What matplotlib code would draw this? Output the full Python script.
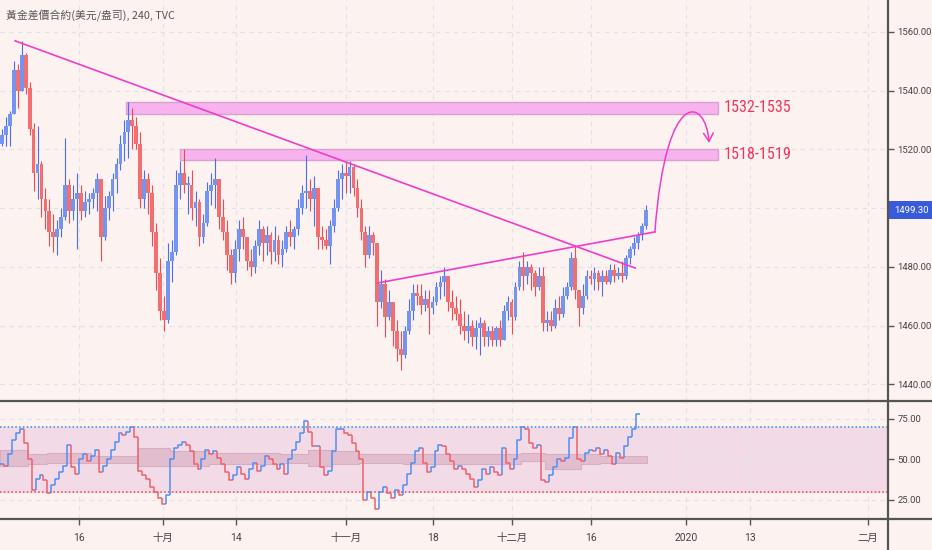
import numpy as np
import matplotlib
matplotlib.use('Agg')
from matplotlib import pyplot as plt
from matplotlib.collections import LineCollection
from matplotlib.patches import Rectangle, FancyArrowPatch
from matplotlib.path import Path
from matplotlib.lines import Line2D

plt.rcParams['font.family'] = ['Roboto', 'Noto Sans CJK TC', 'DejaVu Sans']

title = '黃金差價合約(美元/盎司), 240, TVC'

# gold bars, two bars per trading day (open = previous close)
first_open = 1522
highs = [1527, 1531, 1533, 1550, 1549, 1557, 1553, 1543, 1529, 1528, 1516, 1507, 1503, 1498, 1496, 1500, 1524, 1510, 1508, 1512,
         1508, 1506, 1505, 1507, 1512, 1510, 1504, 1506, 1512, 1517, 1525, 1530, 1536, 1534, 1531, 1526, 1513, 1512, 1508, 1495,
         1483, 1470, 1488, 1489, 1513, 1516, 1520, 1511, 1513, 1506, 1503, 1498, 1509, 1512, 1517, 1510, 1503, 1496, 1486, 1489,
         1496, 1497, 1490, 1486, 1489, 1496, 1494, 1494, 1492, 1494, 1491, 1489, 1494, 1496, 1494, 1503, 1508, 1518, 1510, 1511,
         1507, 1494, 1493, 1496, 1503, 1513, 1515, 1516, 1516, 1515, 1510, 1503, 1494, 1494, 1492, 1488, 1479, 1476, 1472, 1468,
         1462, 1458, 1460, 1469, 1474, 1474, 1474, 1472, 1472, 1470, 1475, 1477, 1480, 1477, 1472, 1470, 1469, 1465, 1464, 1462,
         1462, 1463, 1462, 1460, 1460, 1460, 1462, 1467, 1470, 1469, 1475, 1482, 1485, 1482, 1481, 1479, 1480, 1480, 1465, 1465,
         1469, 1470, 1473, 1475, 1485, 1487, 1472, 1474, 1479, 1479, 1480, 1479, 1479, 1479, 1481, 1481, 1480, 1482, 1484, 1487,
         1490, 1492, 1495, 1501]
lows = [1521, 1521, 1521, 1532, 1534, 1540, 1539, 1525, 1506, 1503, 1497, 1493, 1487, 1485, 1484, 1490, 1496, 1495, 1496, 1486,
        1496, 1497, 1498, 1500, 1499, 1482, 1489, 1496, 1499, 1505, 1513, 1516, 1517, 1520, 1520, 1500, 1500, 1498, 1487, 1472,
        1462, 1458, 1461, 1475, 1484, 1503, 1505, 1498, 1496, 1494, 1487, 1488, 1494, 1501, 1500, 1493, 1489, 1479, 1474, 1475,
        1482, 1486, 1479, 1477, 1478, 1484, 1482, 1484, 1481, 1482, 1481, 1480, 1485, 1487, 1486, 1491, 1498, 1500, 1499, 1494,
        1486, 1486, 1486, 1481, 1492, 1499, 1503, 1505, 1505, 1504, 1497, 1489, 1480, 1483, 1484, 1460, 1466, 1456, 1462, 1453,
        1448, 1445, 1449, 1457, 1462, 1467, 1464, 1465, 1457, 1464, 1467, 1469, 1470, 1465, 1462, 1462, 1457, 1455, 1454, 1453,
        1452, 1450, 1453, 1453, 1453, 1453, 1453, 1455, 1462, 1457, 1462, 1472, 1472, 1474, 1472, 1470, 1472, 1458, 1458, 1458,
        1459, 1462, 1463, 1469, 1472, 1469, 1460, 1464, 1469, 1474, 1472, 1472, 1470, 1474, 1474, 1475, 1476, 1475, 1476, 1481,
        1484, 1486, 1489, 1493]
closes = [1525, 1528, 1532, 1547, 1540, 1552, 1541, 1527, 1512, 1515, 1503, 1499, 1492, 1490, 1493, 1497, 1508, 1499, 1503, 1505,
          1499, 1502, 1503, 1505, 1510, 1490, 1500, 1504, 1510, 1515, 1522, 1526, 1530, 1528, 1522, 1503, 1510, 1505, 1492, 1478,
          1465, 1462, 1482, 1485, 1508, 1512, 1508, 1508, 1500, 1502, 1490, 1495, 1506, 1508, 1510, 1497, 1492, 1484, 1478, 1486,
          1493, 1490, 1482, 1480, 1487, 1493, 1488, 1491, 1485, 1489, 1484, 1486, 1492, 1490, 1493, 1500, 1505, 1506, 1503, 1507,
          1490, 1489, 1487, 1494, 1500, 1510, 1512, 1511, 1514, 1507, 1500, 1492, 1484, 1491, 1488, 1468, 1474, 1463, 1468, 1458,
          1452, 1450, 1458, 1465, 1471, 1470, 1467, 1469, 1466, 1468, 1473, 1475, 1477, 1468, 1466, 1464, 1460, 1458, 1460, 1456,
          1459, 1461, 1456, 1458, 1455, 1459, 1455, 1465, 1468, 1463, 1473, 1480, 1477, 1480, 1478, 1473, 1477, 1461, 1462, 1460,
          1466, 1464, 1470, 1473, 1483, 1472, 1466, 1470, 1477, 1476, 1478, 1475, 1477, 1475, 1479, 1477, 1478, 1477, 1483, 1486,
          1488, 1491, 1494, 1499.3]

# RSI, drawn as steps, two values per trading day
rsi = [47, 46, 53, 62, 66, 68.6, 60, 50, 31, 38, 40, 37, 29.4, 34, 38, 42, 46, 59, 45, 41,
       50, 53, 49, 52, 56, 42, 46, 50, 56, 61, 66, 65, 67, 70, 64, 43, 40, 38, 33, 30,
       26, 22, 28, 50, 57, 59, 61, 59, 55, 47, 44, 50, 56, 53, 55, 51, 47, 42, 37, 40,
       45, 41, 38, 44, 48, 43, 46, 52, 50, 47, 44, 47, 41, 50, 56, 61, 66, 74, 67, 58,
       58, 45, 40, 43, 55, 69, 69, 66, 65, 60, 55, 50, 25, 30, 26, 19, 30, 33, 29, 26,
       31, 28, 34, 41, 48, 55, 57, 48, 42, 45, 55, 59, 58, 53, 49, 44, 46, 44, 41, 38,
       33, 37, 44, 41, 45, 42, 40, 57, 48, 44, 50, 62, 70, 69, 60, 57, 59, 37, 36, 40,
       45, 50, 49, 51, 63, 70, 50, 49, 54, 56, 55, 57, 53, 56, 52, 47, 54, 51, 58, 64,
       69, 78]

# RSI smoothing band
band_days = [0, 3.5, 6, 11.5, 17.5, 21.5, 26.5, 35.5, 39, 42, 45.5, 51, 59, 66, 69, 73.5, 76, 81.9]
band_hi = [55.5, 53, 54, 52, 57, 55, 54, 53, 56, 55, 53, 53, 53, 54, 53, 53, 52, 52]
band_lo = [46, 47, 48, 48, 46, 46, 47, 48, 46, 47, 48, 47, 47, 49, 44, 47, 48, 48]

tick_days = [10.0, 20.6, 29.9, 43.8, 54.8, 64.8, 74.8, 86.8, 94.9, 109.9]
tick_labels = ['16', '十月', '14', '十一月', '18', '十二月', '16', '2020', '13', '二月']
price_ticks = [1440, 1460, 1480, 1500, 1520, 1540, 1560]
rsi_ticks = [25, 50, 75]

# drawings (trading day, price)
down_trend = ([1.9, 80.4], [1557.0, 1479.6])
up_trend = ([47.8, 82.9], [1474.5, 1491.9])
swing = ([82.9, 84.3, 89.4, 89.75], [1491.9, 1542.3, 1537.5, 1522.2])
zones = [(15.95, 1532.1, 1536.2, '1532-1535'), (22.8, 1516.4, 1520.1, '1518-1519')]
zone_end = 90.9
last_price = 1499.30

assert len(highs) == len(lows) == len(closes)

W, H = 932, 550
bg = '#fcf2f0'
pink = '#ee3ec9'
xmax = 888 / 7.9
narrow = ['Roboto Condensed', 'Liberation Sans Narrow', 'Open Sans Condensed', 'Roboto', 'DejaVu Sans']

fig = plt.figure(figsize=(W / 100, H / 100), dpi=100)
fig.patch.set_facecolor(bg)
ax = fig.add_axes([0, 1 - 401 / H, 888 / W, 401 / H])
ax2 = fig.add_axes([0, 1 - 519 / H, 888 / W, 117 / H])

for a in (ax, ax2):
    a.set_facecolor(bg)
    for s in a.spines.values():
        s.set_visible(False)
    a.set_xlim(0, xmax)
    a.set_xticks(tick_days)
    a.set_axisbelow(True)
    a.grid(True, color='#dde3ec', lw=0.8, ls=(0, (4, 4)))
    a.yaxis.tick_right()

# candles
c = np.array(closes, dtype=float)
o = np.r_[first_open, c[:-1]]
x = 0.25 + 0.5 * np.arange(len(c))
up = c >= o
ax.vlines(x, lows, highs, colors=np.where(up, '#4a6fec', '#ec4a52'), lw=0.8, zorder=2)
ax.bar(x, np.maximum(np.abs(c - o), 0.4), bottom=np.minimum(o, c), width=0.48,
       color=np.where(up, '#7395f0', '#f36e6e'), lw=0, zorder=3)

ax.set_ylim(1434.3, 1570.9)
ax.set_yticks(price_ticks)
ax.set_yticklabels(['' if p == 1500 else f'{p:.2f}' for p in price_ticks])
ax.tick_params(axis='y', length=4, width=1, color='#555555', labelsize=6.8, labelcolor='#444444', pad=3)
ax.tick_params(axis='x', length=0, labelbottom=False)

# zones and labels
for start, lo, hi, label in zones:
    ax.add_patch(Rectangle((start, lo), zone_end - start, hi - lo, fc='#f8b3ee', ec='#d9a0d2', lw=1, zorder=1.5))
    ax.text(zone_end + 0.75, (lo + hi) / 2, label, color='#f2335c', fontsize=11.6, va='center', family=narrow)

ax.plot(*down_trend, color=pink, lw=1.2, zorder=4)
ax.plot(*up_trend, color=pink, lw=1.2, zorder=4)
path = Path(list(zip(*swing)), [Path.MOVETO, Path.CURVE4, Path.CURVE4, Path.CURVE4])
ax.add_patch(FancyArrowPatch(path=path, arrowstyle='->,head_length=0.6,head_width=0.35', mutation_scale=10,
                             color=pink, lw=1.1, zorder=4))

ax.text(1 + 6 / 888, last_price, '1499.30', transform=ax.get_yaxis_transform(), ha='left', va='center',
        color='white', fontsize=6.8, zorder=10, clip_on=False,
        bbox=dict(boxstyle='square,pad=0.5', fc='#3a5bd9', ec='none'))

# RSI panel
ax2.set_ylim(13, 85.5)
ax2.axhspan(30, 70, color='#f2dbe7', zorder=0)
ax2.axhline(70, color='#2c8ef0', ls=(0, (1, 1.5)), lw=1.1, zorder=2)
ax2.axhline(30, color='#e8474e', ls=(0, (1, 1.5)), lw=1.1, zorder=2)
ax2.fill_between(band_days, band_lo, band_hi, step='post', fc='#dcb3c6', ec='#d3a4ba', lw=0.8, alpha=0.75, zorder=1)

segs, cols = [], []
for h in range(len(rsi)):
    prev = rsi[h - 1] if h else rsi[0]
    segs.append([(0.5 * h, prev), (0.5 * h, rsi[h]), (0.5 * h + 0.5, rsi[h])])
    cols.append('#4f8ff2' if rsi[h] >= prev else '#f0606a')
ax2.add_collection(LineCollection(segs, colors=cols, lw=1.1, zorder=3))

ax2.set_yticks(rsi_ticks)
ax2.set_yticklabels([f'{r:.2f}' for r in rsi_ticks])
ax2.set_xticklabels(tick_labels)
ax2.tick_params(axis='y', length=4, width=1, color='#555555', labelsize=6.8, labelcolor='#444444', pad=3)
ax2.tick_params(axis='x', length=4, width=1, color='#555555', labelsize=7.5, labelcolor='#444444', pad=6)

# title and panel separators
fig.text(6 / W, 1 - 16 / H, title, fontsize=7.8, color='#555555', va='center',
         family=['Noto Sans CJK TC', 'DejaVu Sans'])
fig.add_artist(Line2D([888 / W, 888 / W], [0, 1], color='#555555', lw=1.6))
fig.add_artist(Line2D([0, 1], [1 - 401 / H] * 2, color='#555555', lw=1.6))
fig.add_artist(Line2D([0, 1], [1 - 519 / H] * 2, color='#555555', lw=1.6))

fig.savefig('out.png', dpi=100, facecolor=bg)
